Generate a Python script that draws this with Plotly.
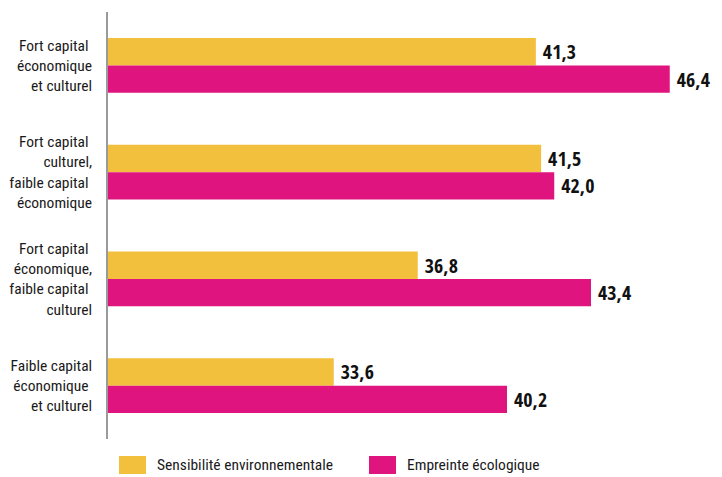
import plotly.graph_objects as go

categories = [
    "Fort capital\u00a0<br>économique<br>et culturel",
    "Fort capital\u00a0<br>culturel,<br>faible capital\u00a0<br>économique",
    "Fort capital\u00a0<br>économique,<br>faible capital\u00a0<br>culturel",
    "Faible capital<br>économique\u00a0<br>et culturel",
]
sensibilite = [41.3, 41.5, 36.8, 33.6]
empreinte = [46.4, 42.0, 43.4, 40.2]
series_names = ["Sensibilité environnementale", "Empreinte écologique"]
colors = ["#F2C03C", "#E0147F"]

def fmt(v):
    return "\u2009" + f"{v:.1f}".replace(".", ",")

# page body adds an 8px margin, so the figure is drawn 8px smaller and offset
W, H = 714, 469
ML, MR, MT, MB = 100, 10, 4, 38
pw = W - ML - MR
ph = H - MT - MB
x0 = 25.0
xmax = x0 + pw / 26.25

label_font = "Roboto Condensed, DejaVu Sans Condensed, sans-serif"
value_font = "Open Sans Condensed, DejaVu Sans Condensed, sans-serif"

fig = go.Figure()
for name, vals, col in zip(series_names, [sensibilite, empreinte], colors):
    fig.add_trace(go.Bar(
        y=categories, x=vals, orientation="h", name=name,
        marker=dict(color=col, line=dict(width=0)),
        text=[fmt(v) for v in vals], textposition="outside",
        textfont=dict(family=value_font, size=20, color="#111111", weight="bold"),
        cliponaxis=False, showlegend=False,
    ))

fig.update_layout(
    width=W, height=H,
    margin=dict(l=ML, r=MR, t=MT, b=MB, autoexpand=False),
    paper_bgcolor="white", plot_bgcolor="white",
    barmode="group", bargap=0.485, bargroupgap=0,
    xaxis=dict(range=[x0, xmax], showgrid=False, zeroline=False,
               showticklabels=False, showline=False, ticks="", automargin=False),
    yaxis=dict(autorange="reversed", showgrid=False, zeroline=False,
               showline=True, linecolor="#9a9a9a", linewidth=1.5,
               ticks="", ticklabelstandoff=11, automargin=False,
               tickfont=dict(family=label_font, size=15.5, color="#1a1a1a")),
)

def px2x(px):
    return (px - ML) / pw

def py2y(py):
    return (H - MB - py) / ph

legend_items = [(111, 138, 147), (361, 388, 397)]
for (xa, xb, xt), name, col in zip(legend_items, series_names, colors):
    fig.add_shape(type="rect", xref="paper", yref="paper",
                  x0=px2x(xa), x1=px2x(xb), y0=py2y(466), y1=py2y(448),
                  fillcolor=col, line=dict(width=0))
    fig.add_annotation(xref="paper", yref="paper", x=px2x(xt), y=py2y(457),
                       text=name, showarrow=False, xanchor="left", yanchor="middle",
                       font=dict(family=label_font, size=15.5, color="#1a1a1a"))

fig.write_html("out.html")
